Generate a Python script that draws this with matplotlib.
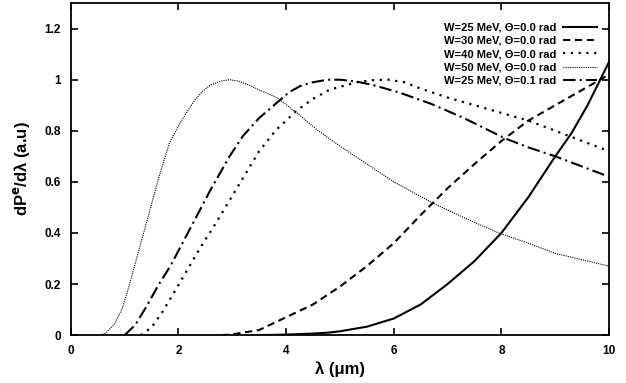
import matplotlib.pyplot as plt
from matplotlib.ticker import FuncFormatter

plt.rcParams['font.family'] = ['Liberation Sans', 'DejaVu Sans']
plt.rcParams['font.weight'] = 'bold'
plt.rcParams['mathtext.default'] = 'bf'

# W=25 MeV, theta=0.0
x25 = [3.5, 4.0, 4.5, 4.8, 5.0, 5.5, 6.0, 6.5, 7.0, 7.5, 8.0, 8.5, 9.0, 9.3, 9.6, 10.0]
y25 = [0, 0.002, 0.006, 0.01, 0.015, 0.033, 0.065, 0.12, 0.2, 0.29, 0.4, 0.54, 0.7, 0.79, 0.9, 1.07]

# W=30 MeV, theta=0.0
x30 = [2.8, 3.0, 3.5, 4.0, 4.5, 5.0, 5.5, 6.0, 6.5, 7.0, 7.5, 8.0, 8.5, 9.0, 9.5, 10.0]
y30 = [0, 0.003, 0.02, 0.07, 0.12, 0.19, 0.27, 0.36, 0.47, 0.575, 0.67, 0.76, 0.84, 0.9, 0.96, 1.02]

# W=40 MeV, theta=0.0
x40 = [1.3, 1.5, 1.7, 1.9, 2.4, 2.7, 3.1, 3.5, 3.8, 4.2, 4.5, 4.8, 5.3, 5.6, 5.9, 6.2, 6.5, 7.0,
       7.5, 8.0, 8.5, 9.0, 9.5, 10.0]
y40 = [0, 0.03, 0.09, 0.16, 0.34, 0.44, 0.58, 0.72, 0.8, 0.88, 0.925, 0.96, 0.99, 0.998, 1.0,
       0.99, 0.965, 0.93, 0.9, 0.87, 0.84, 0.8, 0.76, 0.72]

# W=50 MeV, theta=0.0
x50 = [0.55, 0.65, 0.8, 0.95, 1.08, 1.25, 1.42, 1.64, 1.83, 2.0, 2.15, 2.3, 2.45, 2.6, 2.8,
       2.95, 3.1, 3.3, 3.5, 3.83, 4.2, 4.6, 5.0, 5.5, 6.0, 6.7, 7.3, 7.95, 8.5, 9.0, 9.5, 10.0]
y50 = [0, 0.008, 0.04, 0.1, 0.19, 0.32, 0.45, 0.62, 0.75, 0.82, 0.87, 0.92, 0.955, 0.98, 0.995,
       1.0, 0.995, 0.98, 0.96, 0.93, 0.87, 0.8, 0.74, 0.67, 0.6, 0.52, 0.46, 0.40, 0.36, 0.32,
       0.295, 0.27]

# W=25 MeV, theta=0.1
x25b = [1.0, 1.2, 1.4, 1.64, 1.85, 2.0, 2.15, 2.3, 2.6, 2.95, 3.2, 3.5, 3.83, 4.05, 4.26, 4.5,
        4.77, 5.0, 5.3, 5.6, 6.1, 6.7, 7.3, 8.07, 8.5, 9.0, 9.5, 10.0]
y25b = [0, 0.04, 0.11, 0.2, 0.27, 0.33, 0.39, 0.45, 0.57, 0.70, 0.78, 0.85, 0.91, 0.95, 0.975,
        0.99, 1.0, 1.0, 0.993, 0.98, 0.95, 0.905, 0.85, 0.77, 0.735, 0.70, 0.66, 0.62]

labels = ['W=25 MeV, Θ=0.0 rad', 'W=30 MeV, Θ=0.0 rad', 'W=40 MeV, Θ=0.0 rad',
          'W=50 MeV, Θ=0.0 rad', 'W=25 MeV, Θ=0.1 rad']

fig = plt.figure(figsize=(6.26, 3.83), dpi=100)
ax = fig.add_axes([0.113, 0.125, 0.86, 0.867])

ax.plot(x25, y25, color='black', lw=1.5, ls='-', label=labels[0])
ax.plot(x30, y30, color='black', lw=1.5, ls=(0, (3.5, 2.2)), label=labels[1])
ax.plot(x40, y40, color='black', lw=1.6, ls=(0, (1, 2.5)), label=labels[2])
ax.plot(x50, y50, color='black', lw=0.8, ls=(0, (1, 1)), label=labels[3])
ax.plot(x25b, y25b, color='black', lw=1.5, ls=(0, (6, 2, 1, 2)), label=labels[4])

ax.set_xlim(0, 10)
ax.set_ylim(0, 1.3)
ax.set_xticks([0, 2, 4, 6, 8, 10])
ax.set_yticks([0, 0.2, 0.4, 0.6, 0.8, 1.0, 1.2])
ax.yaxis.set_major_formatter(FuncFormatter(lambda v, p: f'{v:g}'))
ax.tick_params(direction='in', top=True, right=True, length=5, width=1.2,
               labelsize=8.5, pad=7)
for s in ax.spines.values():
    s.set_linewidth(1.3)

ax.set_xlabel('λ (μm)', fontsize=12, fontweight='bold', labelpad=3)
ax.set_ylabel(r'dP$^{e}$/dλ (a.u)', fontsize=12, fontweight='bold', labelpad=9)

ax.legend(loc='upper right', bbox_to_anchor=(0.985, 0.955), frameon=False, markerfirst=False,
          fontsize=8, handlelength=3.0, handletextpad=0.6, labelspacing=0.3,
          borderaxespad=0)

fig.savefig('out.png', dpi=100)
